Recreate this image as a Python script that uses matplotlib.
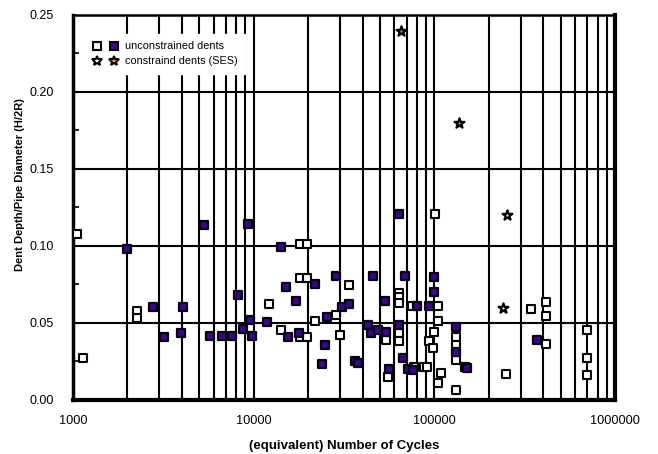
import matplotlib
matplotlib.use('Agg')
import matplotlib.pyplot as plt
from matplotlib.ticker import LogLocator, FuncFormatter, MultipleLocator
from matplotlib.legend_handler import HandlerTuple
from matplotlib.lines import Line2D

plt.rcParams['font.family'] = ['Liberation Sans', 'DejaVu Sans']

# unconstrained dents, open markers
open_x = [1050, 1130, 2250, 2250, 18000, 19600, 18000, 19600, 33800, 12200,
          28400, 21700, 14200, 18000, 19600, 30000, 101000, 64000, 64000, 64000,
          74800, 105000, 105000, 53800, 64000, 64000, 99600, 93300, 98000, 77100,
          88000, 90500, 55000, 109000, 104000, 132000, 132000, 132000, 132000, 344000,
          415000, 415000, 415000, 702000, 702000, 702000, 250000]
open_y = [0.108, 0.027, 0.0580, 0.0534, 0.101, 0.101, 0.0795, 0.0795, 0.0746, 0.0621,
          0.0551, 0.0510, 0.0454, 0.0406, 0.0406, 0.0420, 0.121, 0.0693, 0.0667, 0.0632,
          0.0609, 0.0609, 0.0511, 0.0388, 0.0436, 0.0380, 0.0440, 0.0386, 0.0340, 0.0214,
          0.0212, 0.0212, 0.0150, 0.0173, 0.0108, 0.0411, 0.0358, 0.0261, 0.0065, 0.0590,
          0.0634, 0.0543, 0.0363, 0.0452, 0.0270, 0.0164, 0.0167]

# unconstrained dents, filled markers
fill_x = [5300, 9270, 2000, 14160, 28500, 15140, 21900, 8220, 17200, 2780,
          4070, 30600, 33500, 25500, 9510, 11800, 8750, 17800, 15500, 3200,
          3970, 5750, 6680, 7590, 9820, 24900, 24000, 36300, 37800, 64000,
          45700, 69000, 100000, 99000, 53000, 80000, 93000, 42800, 44300, 48800,
          53800, 64000, 67300, 71000, 75600, 56300, 132000, 132000, 148000, 152000,
          370000]
fill_y = [0.1134, 0.114, 0.0982, 0.0996, 0.0803, 0.0731, 0.0751, 0.068, 0.0642, 0.0602,
          0.0602, 0.0602, 0.0626, 0.0537, 0.0517, 0.0509, 0.0459, 0.0433, 0.0407, 0.0407,
          0.0433, 0.0418, 0.0418, 0.0418, 0.0418, 0.0354, 0.0232, 0.0253, 0.0240, 0.121,
          0.0807, 0.0807, 0.0797, 0.0704, 0.0640, 0.0609, 0.0609, 0.0485, 0.0433, 0.0457,
          0.0439, 0.0490, 0.0270, 0.0203, 0.0195, 0.0199, 0.0472, 0.0310, 0.0212, 0.0208,
          0.0392]

# constrained dents (SES)
star_open_x = [253000, 240000]
star_open_y = [0.1201, 0.0600]
star_fill_x = [65000, 137000]
star_fill_y = [0.2398, 0.1797]

purple = '#3d0099'
orange = '#ff9900'

fig = plt.figure(figsize=(6.58, 4.54), dpi=100)
ax = fig.add_axes([0.111, 0.119, 0.824, 0.848])

ax.set_xscale('log')
ax.set_xlim(1000, 1000000)
ax.set_ylim(0, 0.25)

# сетка: вертикальные линии на каждом 1..9 x 10^k
ax.xaxis.set_major_locator(LogLocator(base=10))
ax.xaxis.set_minor_locator(LogLocator(base=10, subs=range(2, 10)))
ax.yaxis.set_major_locator(MultipleLocator(0.05))
ax.yaxis.set_minor_locator(MultipleLocator(0.025))
ax.grid(True, which='both', axis='x', color='black', linewidth=1.5)
ax.grid(True, which='major', axis='y', color='black', linewidth=1.5)
ax.set_axisbelow(True)

ax.scatter(open_x, open_y, marker='s', s=34, facecolor='white', edgecolor='black',
           linewidth=1.5, zorder=3)
ax.scatter(fill_x, fill_y, marker='s', s=40, facecolor=purple, edgecolor='black',
           linewidth=1.6, zorder=4)
ax.scatter(star_open_x, star_open_y, marker='*', s=55, facecolor='white', edgecolor='black',
           linewidth=1.6, zorder=4)
ax.scatter(star_fill_x, star_fill_y, marker='*', s=55, facecolor=orange, edgecolor='black',
           linewidth=1.6, zorder=4)

ax.xaxis.set_major_formatter(FuncFormatter(lambda v, p: '%d' % v))
ax.xaxis.set_minor_formatter(FuncFormatter(lambda v, p: ''))
ax.yaxis.set_major_formatter(FuncFormatter(lambda v, p: '%.2f' % v))
ax.tick_params(axis='x', which='both', length=0, pad=11, labelsize=9.2)
ax.tick_params(axis='y', which='major', length=0, pad=14, labelsize=9)
ax.tick_params(axis='y', which='minor', length=4, width=1.2, direction='in')

for side, lw in [('left', 2.5), ('bottom', 3), ('right', 3), ('top', 1.8)]:
    ax.spines[side].set_linewidth(lw)
    ax.spines[side].set_color('black')

ax.set_xlabel('(equivalent) Number of Cycles', fontsize=9.5, fontweight='bold', labelpad=9)
ax.set_ylabel('Dent Depth/Pipe Diameter (H/2R)', fontsize=8, fontweight='bold')
ax.yaxis.set_label_coords(-0.088, 0.56)

h_open = Line2D([], [], marker='s', ls='none', markersize=5.5, markerfacecolor='white',
                markeredgecolor='black', markeredgewidth=1.5)
h_fill = Line2D([], [], marker='s', ls='none', markersize=5.5, markerfacecolor=purple,
                markeredgecolor='black', markeredgewidth=1.5)
h_sopen = Line2D([], [], marker='*', ls='none', markersize=7, markerfacecolor='white',
                 markeredgecolor='black', markeredgewidth=1.5)
h_sfill = Line2D([], [], marker='*', ls='none', markersize=7, markerfacecolor=orange,
                 markeredgecolor='black', markeredgewidth=1.5)
leg = ax.legend([(h_open, h_fill), (h_sopen, h_sfill)],
                ['unconstrained dents', 'constraind dents (SES)'],
                handler_map={tuple: HandlerTuple(ndivide=None, pad=0.8)},
                loc='upper left', bbox_to_anchor=(0.012, 0.965), fontsize=7.8,
                frameon=True, fancybox=False, handlelength=2.4, handletextpad=0.6,
                labelspacing=0.45, borderpad=0.7)
leg.get_frame().set_edgecolor('white')
leg.get_frame().set_facecolor('white')
leg.get_frame().set_alpha(1)
leg.set_zorder(5)

plt.savefig('out.png', dpi=100)
